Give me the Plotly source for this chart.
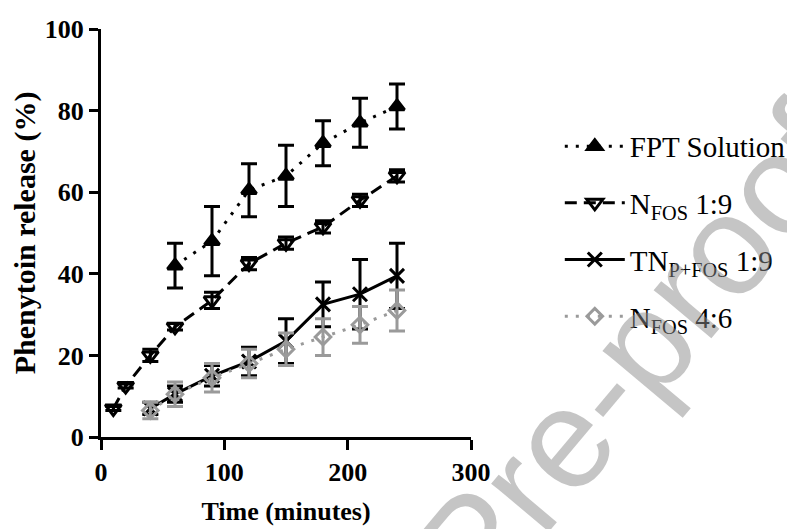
import plotly.graph_objects as go

# Data
t_fpt = [60, 90, 120, 150, 180, 210, 240]
y_fpt = [42, 48, 60.5, 64, 72, 77, 81]
e_fpt = [5.5, 8.5, 6.5, 7.5, 5.5, 6, 5.5]

t_n19 = [10, 20, 40, 60, 90, 120, 150, 180, 210, 240]
y_n19 = [7, 12.5, 20, 27, 33.5, 42.5, 47.5, 51.5, 58, 64]
e_n19 = [0.5, 0.5, 1.5, 0.8, 2, 1.5, 1.5, 1.5, 1.5, 1.5]

t_tn = [40, 60, 90, 120, 150, 180, 210, 240]
y_tn = [7, 10.5, 15, 18.5, 23.5, 32.5, 35, 39.5]
e_tn = [1.5, 2, 2.5, 3.5, 5.5, 5.5, 8.5, 8]

t_n46 = [40, 60, 90, 120, 150, 180, 210, 240]
y_n46 = [6.5, 10.5, 14.5, 18, 21.5, 24.5, 27.5, 31]
e_n46 = [2, 3, 3.5, 3.5, 4, 4.5, 4.5, 5]

names = ["FPT Solution", "N<sub>FOS</sub> 1:9", "TN<sub>P+FOS</sub> 1:9", "N<sub>FOS</sub> 4:6"]

BLACK = "#000000"
GRAY = "#9a9a9a"
SERIF = "Tinos, Nimbus Roman, FreeSerif, DejaVu Serif Condensed, DejaVu Serif"

fig = go.Figure()

def add(x, y, e, name, color, dash, symbol, size, group):
    fig.add_trace(go.Scatter(
        x=x, y=y, name=name, mode="lines+markers",
        legendgroup=group,
        line=dict(color=color, width=3, dash=dash),
        marker=dict(symbol=symbol, size=size, color=color,
                    line=dict(color=color, width=3)),
        error_y=dict(type="data", array=e, visible=True, color=color,
                     thickness=3, width=8),
        cliponaxis=False,
    ))

add(t_fpt, y_fpt, e_fpt, names[0], BLACK, "3px,8px", "triangle-up", 13, "a")
add(t_n19, y_n19, e_n19, names[1], BLACK, "12px,7px", "triangle-down-open", 14, "b")
add(t_tn, y_tn, e_tn, names[2], BLACK, "solid", "x-thin-open", 14, "c")
add(t_n46, y_n46, e_n46, names[3], GRAY, "3px,8px", "diamond-open", 12, "d")

tick_font = dict(family=SERIF, size=26, color="black")

fig.update_layout(
    width=787, height=521,
    margin=dict(l=93, r=324, t=21, b=92, autoexpand=False),
    paper_bgcolor="white", plot_bgcolor="white",
    font=dict(family=SERIF, color="black"),
    xaxis=dict(
        range=[0, 300], tickvals=[0, 100, 200, 300],
        ticktext=["<b>0</b>", "<b>100</b>", "<b>200</b>", "<b>300</b>"],
        showline=True, linecolor="black", linewidth=3,
        ticks="outside", ticklen=10, tickwidth=3, tickcolor="black",
        showgrid=False, zeroline=False, tickfont=tick_font,
        title=dict(text="<b>Time (minutes)</b>",
                   font=dict(family=SERIF, size=26), standoff=16),
    ),
    yaxis=dict(
        range=[0, 100], tickvals=[0, 20, 40, 60, 80, 100],
        ticktext=["<b>0</b>", "<b>20</b>", "<b>40</b>", "<b>60</b>", "<b>80</b>", "<b>100</b>"],
        showline=True, linecolor="black", linewidth=3,
        ticks="outside", ticklen=9, tickwidth=3, tickcolor="black",
        showgrid=False, zeroline=False, tickfont=tick_font,
        title=dict(text="<b>Phenytoin release (%)</b>",
                   font=dict(family=SERIF, size=30), standoff=6),
    ),
    legend=dict(
        x=1.24, xanchor="left", y=0.775, yanchor="top",
        font=dict(family=SERIF, size=29, color="black"),
        tracegroupgap=16, itemwidth=60, bgcolor="rgba(0,0,0,0)",
    ),
    showlegend=True,
)

fig.add_annotation(
    text="Pre-proof", xref="paper", yref="paper",
    x=1.44, y=0.205, xanchor="center", yanchor="middle",
    textangle=-50, showarrow=False,
    font=dict(family="Liberation Sans", size=142, color="rgba(140,140,140,0.5)"),
)

fig.write_html("out.html")
